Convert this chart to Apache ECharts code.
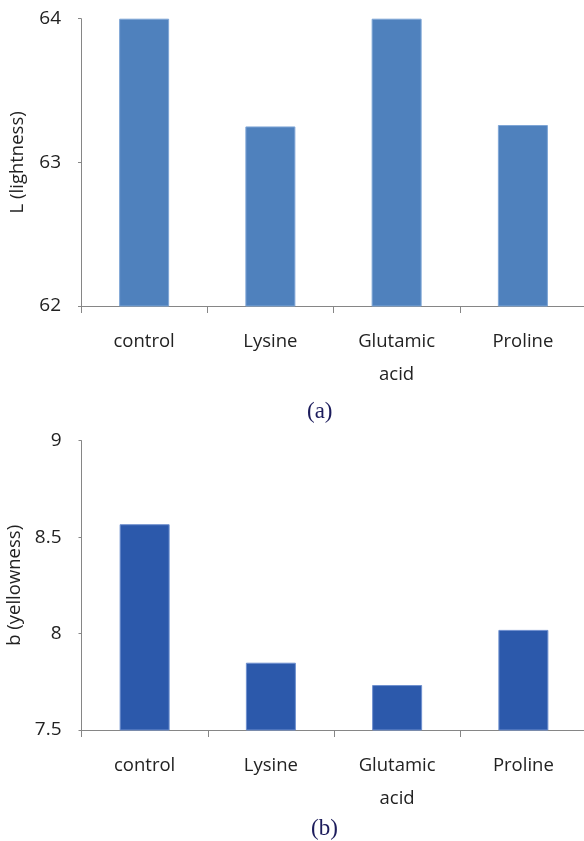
<!DOCTYPE html>
<html><head><meta charset="utf-8">
<script src="https://cdn.jsdelivr.net/npm/echarts@6/dist/echarts.min.js"></script>
<style>html,body{margin:0;padding:0;background:#fff}#c{width:584px;height:841px}</style>
</head><body><div id="c"></div>
<script>
var categories = ['control', 'Lysine', 'Glutamic\nacid', 'Proline'];
var lightness = [64.0, 63.25, 64.0, 63.26];
var yellowness = [8.567, 7.849, 7.733, 8.019];
var lTicks = [62, 63, 64];
var bTicks = [7.5, 8, 8.5, 9];

var chart = echarts.init(document.getElementById('c'), null, {renderer: 'canvas'});
var font = 'Open Sans';
function xAx(gi) {
  return {
    type: 'category', gridIndex: gi, data: categories,
    axisLine: {lineStyle: {color: '#868686', width: 1}},
    axisTick: {show: true, length: 7, lineStyle: {color: '#868686'}},
    axisLabel: {fontFamily: font, fontSize: 18.5, color: '#222', margin: 19, lineHeight: 33, interval: 0}
  };
}
function yAx(gi, min, max, interval, name) {
  return {
    type: 'value', gridIndex: gi, min: min, max: max, interval: interval,
    name: name, nameLocation: 'middle', nameGap: 54,
    nameTextStyle: {fontFamily: font, fontSize: 18.5, color: '#222'},
    axisLine: {show: true, lineStyle: {color: '#868686', width: 1}},
    axisTick: {show: true, length: 3, lineStyle: {color: '#868686'}},
    splitLine: {show: false},
    axisLabel: {fontFamily: font, fontSize: 19, color: '#222', margin: 20}
  };
}
chart.setOption({
  animation: false,
  grid: [
    {left: 81, top: 18.7, width: 505, height: 287.3, containLabel: false, outerBoundsMode: 'none'},
    {left: 81.5, top: 440.7, width: 505, height: 289.3, containLabel: false, outerBoundsMode: 'none'}
  ],
  xAxis: [xAx(0), xAx(1)],
  yAxis: [yAx(0, lTicks[0], lTicks[lTicks.length-1], 1, 'L (lightness)'),
          yAx(1, bTicks[0], bTicks[bTicks.length-1], 0.5, 'b (yellowness)')],
  series: [
    {type: 'bar', xAxisIndex: 0, yAxisIndex: 0, data: lightness, barWidth: 50,
     itemStyle: {color: '#4F81BD', borderColor: '#7fa6d6', borderWidth: 1}},
    {type: 'bar', xAxisIndex: 1, yAxisIndex: 1, data: yellowness, barWidth: 50,
     itemStyle: {color: '#2C59AB', borderColor: '#6f90cf', borderWidth: 1}}
  ],
  graphic: [
    {type: 'text', left: 307, top: 400, style: {text: '(a)', fontFamily: 'Liberation Serif', fontSize: 23, fill: '#1c1c5c'}},
    {type: 'text', left: 311, top: 817, style: {text: '(b)', fontFamily: 'Liberation Serif', fontSize: 23, fill: '#1c1c5c'}}
  ]
});
</script></body></html>
